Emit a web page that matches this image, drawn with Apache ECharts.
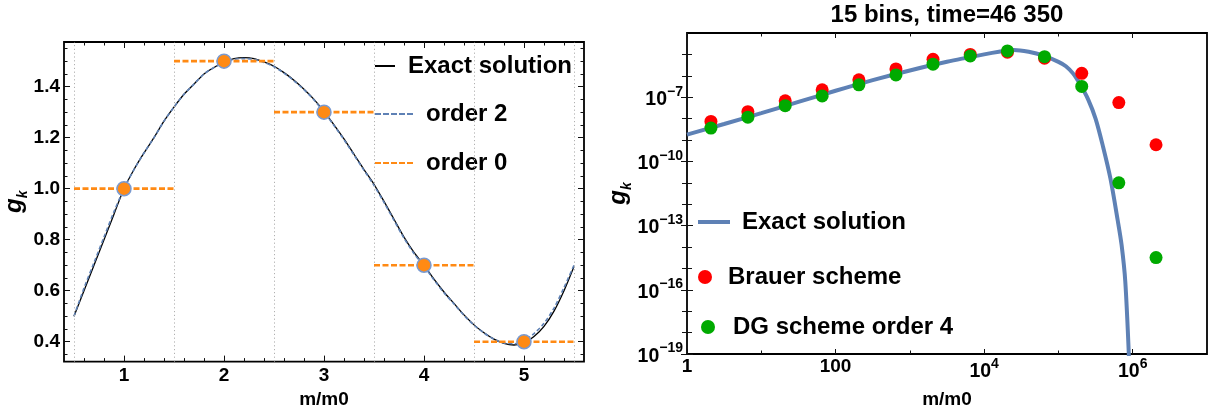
<!DOCTYPE html>
<html><head><meta charset="utf-8">
<script src="https://cdn.jsdelivr.net/npm/echarts@6/dist/echarts.min.js"></script>
<style>html,body{margin:0;padding:0;background:#fff}#c{width:1218px;height:414px}</style>
</head><body><div id="c"></div>
<script>
// ---------- Left panel data ----------
const leftX      = [0.5,0.6,0.7,0.8,0.9,1.0,1.1,1.2,1.3,1.4,1.5,1.6,1.7,1.8,1.9,2.0,2.1,2.2,2.3,2.4,2.5,2.6,2.7,2.8,2.9,3.0,3.1,3.2,3.3,3.4,3.5,3.6,3.7,3.8,3.9,4.0,4.1,4.2,4.3,4.4,4.5,4.6,4.7,4.8,4.9,5.0,5.1,5.2,5.3,5.4,5.5];
const exactLeft  = [0.50,0.60,0.70,0.80,0.90,1.00,1.075,1.14,1.20,1.265,1.32,1.37,1.41,1.45,1.475,1.497,1.51,1.514,1.51,1.497,1.48,1.455,1.425,1.39,1.35,1.303,1.25,1.195,1.135,1.075,1.017,0.95,0.88,0.81,0.75,0.70,0.645,0.595,0.55,0.505,0.466,0.435,0.41,0.393,0.387,0.395,0.42,0.46,0.52,0.60,0.695];
const order2Left = [0.50,0.61,0.71,0.81,0.91,1.00,1.075,1.14,1.20,1.265,1.32,1.37,1.41,1.45,1.475,1.495,1.507,1.51,1.507,1.495,1.478,1.453,1.423,1.388,1.348,1.30,1.248,1.192,1.132,1.072,1.013,0.946,0.876,0.806,0.746,0.697,0.642,0.592,0.548,0.503,0.465,0.434,0.41,0.395,0.392,0.403,0.432,0.472,0.532,0.612,0.70];
const binCenters = [1,2,3,4,5];
const binValues  = [1.0,1.5,1.3,0.7,0.4];
const binEdges   = [0.5,1.5,2.5,3.5,4.5,5.5];
const leftXTicks = [1,2,3,4,5];
const leftXMinor = [0.6,0.8,1.2,1.4,1.6,1.8,2.2,2.4,2.6,2.8,3.2,3.4,3.6,3.8,4.2,4.4,4.6,4.8,5.2,5.4];
const leftYTicks = [0.4,0.6,0.8,1.0,1.2,1.4];
const leftYMinor = [0.35,0.45,0.5,0.55,0.65,0.7,0.75,0.85,0.9,0.95,1.05,1.1,1.15,1.25,1.3,1.35,1.45,1.5,1.55];

// ---------- Right panel data ----------
const binMass   = [2.1,6.6,21,66,206,650,2050,6500,20600,65000,206000,650000,2060000];
const brauer    = [7.4e-9,2.1e-8,6.8e-8,2.2e-7,6.5e-7,2.1e-6,5.9e-6,1.0e-5,1.26e-5,6.6e-6,1.3e-6,5.6e-8,6.0e-10];
const dg4       = [3.6e-9,1.17e-8,4.0e-8,1.15e-7,3.8e-7,1.1e-6,3.5e-6,8.5e-6,1.45e-5,7.8e-6,3.2e-7,1.0e-11,3.2e-15];
const exactMass = [1,3.16,10,31.6,100,316,1000,3160,10000,15800,25100,39800,63100,100000,126000,158000,200000,251000,316000,398000,501000,631000,708000,794000,891000];
const exactRight= [1.78e-9,5.6e-9,1.8e-8,6.0e-8,2.0e-7,6.3e-7,1.78e-6,4.5e-6,1.0e-5,1.32e-5,1.62e-5,1.32e-5,8.7e-6,4.5e-6,2.8e-6,1.26e-6,3.5e-7,7.9e-8,1.0e-8,5.0e-10,1.6e-11,1.6e-13,1.26e-14,2.5e-16,6.3e-20];
const rightXTickExp  = [0,2,4,6];
const rightXMinorExp = [1,3,5];
const rightYTickExp  = [-19,-16,-13,-10,-7];
const rightYMinorExp = [-18,-17,-15,-14,-12,-11,-9,-8,-6,-5];
const titleText = '15 bins, time=46 350';

const FONT = 'Liberation Sans';
const lg = Math.log10;
const BLUE = '#5e81b5', ORANGE = '#ff8a14';

const rich = {
  p: {fontFamily: FONT, fontWeight: 'bold', fontSize: 19, color: '#000', lineHeight: 20},
  b: {fontFamily: FONT, fontWeight: 'bold', fontSize: 19.5, color: '#000', lineHeight: 25, verticalAlign: 'bottom'},
  s: {fontFamily: FONT, fontWeight: 'bold', fontSize: 14, color: '#000', lineHeight: 25, verticalAlign: 'top'}
};
const nameRich = {
  g: {fontFamily: FONT, fontStyle: 'italic', fontWeight: 'bold', fontSize: 24, color: '#000', lineHeight: 30, verticalAlign: 'middle'},
  k: {fontFamily: FONT, fontStyle: 'italic', fontWeight: 'bold', fontSize: 14, color: '#000', lineHeight: 30, verticalAlign: 'bottom'}
};

function ax(o) {
  const a = {
    type: 'value', gridIndex: o.grid, position: o.pos, min: o.min, max: o.max,
    axisLine: {show: false}, splitLine: {show: false},
    axisTick: {show: true, inside: true, length: o.len, customValues: o.ticks, lineStyle: {color: '#111', width: 1}},
    axisLabel: {show: false}
  };
  if (o.fmt) {
    a.axisLabel = {show: true, customValues: o.ticks, margin: o.margin, formatter: o.fmt, rich: rich,
      fontFamily: FONT, fontWeight: 'bold', fontSize: 19, color: '#000'};
  }
  if (o.name) {
    a.name = o.name; a.nameLocation = 'middle'; a.nameGap = o.nameGap;
    a.nameTextStyle = o.nameStyle;
  }
  return a;
}

const xNameStyle = {fontFamily: FONT, fontWeight: 'bold', fontSize: 19, color: '#000'};
const yNameStyle = {rich: nameRich};

const xAxes = [
  ax({grid:0,pos:'bottom',min:0.4,max:5.6,len:6,ticks:leftXTicks,margin:4,fmt:v=>'{p|'+v+'}',name:'m/m0',nameGap:28,nameStyle:xNameStyle}),
  ax({grid:0,pos:'bottom',min:0.4,max:5.6,len:3.5,ticks:leftXMinor}),
  ax({grid:0,pos:'top',min:0.4,max:5.6,len:6,ticks:leftXTicks}),
  ax({grid:0,pos:'top',min:0.4,max:5.6,len:3.5,ticks:leftXMinor}),
  ax({grid:1,pos:'bottom',min:0,max:7,len:5,ticks:rightXTickExp,margin:3,
      fmt:v=>v===0?'{p|1}':(v===2?'{p|100}':'{b|10}{s|'+v+'}'),name:'m/m0',nameGap:36,nameStyle:xNameStyle}),
  ax({grid:1,pos:'bottom',min:0,max:7,len:3.5,ticks:rightXMinorExp}),
  ax({grid:1,pos:'top',min:0,max:7,len:5,ticks:rightXTickExp}),
  ax({grid:1,pos:'top',min:0,max:7,len:3.5,ticks:rightXMinorExp})
];
const yAxes = [
  ax({grid:0,pos:'left',min:0.322,max:1.575,len:6,ticks:leftYTicks,margin:4,fmt:v=>'{p|'+v.toFixed(1)+'}',
      name:'{g|g}{k|k}',nameGap:30,nameStyle:yNameStyle}),
  ax({grid:0,pos:'left',min:0.322,max:1.575,len:3.5,ticks:leftYMinor}),
  ax({grid:0,pos:'right',min:0.322,max:1.575,len:6,ticks:leftYTicks}),
  ax({grid:0,pos:'right',min:0.322,max:1.575,len:3.5,ticks:leftYMinor}),
  ax({grid:1,pos:'left',min:-19,max:-4,len:6,ticks:rightYTickExp,margin:4,fmt:v=>'{b|10}{s|\u2212'+(-v)+'}',
      name:'{g|g}{k|k}',nameGap:53,nameStyle:yNameStyle}),
  ax({grid:1,pos:'left',min:-19,max:-4,len:5,ticks:rightYMinorExp}),
  ax({grid:1,pos:'right',min:-19,max:-4,len:6,ticks:rightYTickExp}),
  ax({grid:1,pos:'right',min:-19,max:-4,len:5,ticks:rightYMinorExp})
];

// order 0 step segments with breaks
const order0Data = [];
binValues.forEach((v,i)=>{
  order0Data.push([binEdges[i], v]);
  order0Data.push([binEdges[i+1], v]);
  order0Data.push([binEdges[i+1], '-']);
});

const legText = {fontFamily: FONT, fontWeight: 'bold', fontSize: 24, color: '#000', lineHeight: 28};
function leg(left, top, name, icon, w, h, color, pad) {
  return {left: left, top: top, padding: 0, orient: 'vertical', selectedMode: false,
    itemWidth: w, itemHeight: h, textStyle: Object.assign({padding: [0,0,0,pad]}, legText),
    data: [{name: name, icon: icon, itemStyle: {color: color, borderWidth: 0}}]};
}
const dash5 = 'path://M0 0h6v2h-6z M8 0h6v2h-6z M16 0h6v2h-6z M24 0h6v2h-6z M32 0h6v2h-6z';

const option = {
  animation: false,
  backgroundColor: '#fff',
  title: {text: titleText, left: 947, top: 3, textAlign: 'center', padding: 0,
    textStyle: {fontFamily: FONT, fontWeight: 'bold', fontSize: 24, color: '#000'}},
  grid: [
    {left: 64, top: 42, width: 520, height: 321, show: true, borderColor: '#000', borderWidth: 1.8, backgroundColor: 'transparent'},
    {left: 687, top: 33, width: 520, height: 322, show: true, borderColor: '#000', borderWidth: 1.8, backgroundColor: 'transparent'}
  ],
  xAxis: xAxes,
  yAxis: yAxes,
  legend: [
    leg(375, 52, 'Exact solution', 'path://M0 0h20v2h-20z', 20, 2, '#000', 8),
    leg(375, 100, 'order 2', dash5, 38, 2, BLUE, 8),
    leg(375, 149, 'order 0', dash5, 38, 2.5, ORANGE, 8),
    leg(698, 208, 'Exact solution ', 'path://M0 0h32v4h-32z', 32, 4, BLUE, 7),
    leg(698, 263, 'Brauer scheme', 'circle', 14, 14, '#ff0000', 11),
    leg(701, 313, 'DG scheme order 4', 'circle', 14, 14, '#00aa00', 13)
  ],
  series: [
    {name: 'Exact solution', type: 'line', xAxisIndex: 0, yAxisIndex: 0, symbol: 'none', smooth: 0.3,
      lineStyle: {color: '#000', width: 1.3}, itemStyle: {color: '#000'}, z: 3,
      data: leftX.map((x,i)=>[x, exactLeft[i]]),
      markLine: {silent: true, symbol: ['none','none'], label: {show: false},
        lineStyle: {color: '#b0b0b0', type: [1.2,2.6], width: 1}, animation: false,
        data: binEdges.map(v=>({xAxis: v}))}},
    {name: 'order 2', type: 'line', xAxisIndex: 0, yAxisIndex: 0, symbol: 'none', smooth: 0.3,
      lineStyle: {color: BLUE, width: 1.6, type: [4,2.5]}, itemStyle: {color: BLUE}, z: 4,
      data: leftX.map((x,i)=>[x, order2Left[i]])},
    {name: 'order 0', type: 'line', xAxisIndex: 0, yAxisIndex: 0, symbol: 'none', connectNulls: false,
      lineStyle: {color: ORANGE, width: 2.6, type: [6,2.5]}, itemStyle: {color: ORANGE}, z: 5,
      data: order0Data},
    {name: 'bin values', type: 'scatter', xAxisIndex: 0, yAxisIndex: 0, symbolSize: 14, z: 6,
      itemStyle: {color: ORANGE, borderColor: '#7a9ad0', borderWidth: 1.5, opacity: 1},
      data: binCenters.map((x,i)=>[x, binValues[i]])},

    {name: 'Exact solution ', type: 'line', xAxisIndex: 4, yAxisIndex: 4, symbol: 'none', smooth: 0.3,
      lineStyle: {color: BLUE, width: 4}, itemStyle: {color: BLUE}, z: 3,
      data: exactMass.map((m,i)=>[lg(m), lg(exactRight[i])])},
    {name: 'Brauer scheme', type: 'scatter', xAxisIndex: 4, yAxisIndex: 4, symbolSize: 13, z: 4,
      itemStyle: {color: '#ff0000', opacity: 1},
      data: binMass.map((m,i)=>[lg(m), lg(brauer[i])])},
    {name: 'DG scheme order 4', type: 'scatter', xAxisIndex: 4, yAxisIndex: 4, symbolSize: 13, z: 5,
      itemStyle: {color: '#00aa00', opacity: 1},
      data: binMass.map((m,i)=>[lg(m), lg(dg4[i])])}
  ]
};
const chart = echarts.init(document.getElementById('c'), null, {renderer: 'canvas'});
chart.setOption(option);
</script></body></html>
